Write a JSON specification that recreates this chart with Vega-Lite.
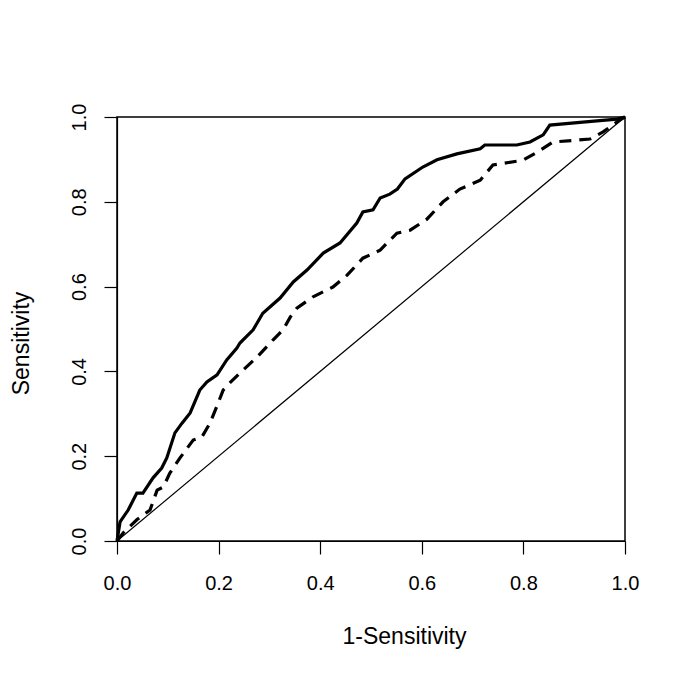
{
  "$schema": "https://vega.github.io/schema/vega-lite/v6.json",
  "autosize": "none",
  "width": 508,
  "height": 424,
  "padding": {"left": 117, "top": 117, "right": 60, "bottom": 144},
  "background": "white",
  "config": {
    "view": {"stroke": "black", "strokeWidth": 1.5},
    "axis": {
      "grid": false,
      "domainColor": "black",
      "domainWidth": 1.2,
      "tickColor": "black",
      "tickWidth": 1.2,
      "tickSize": 13,
      "labelColor": "black",
      "titleColor": "black",
      "labelFont": "Liberation Sans, Arial, sans-serif",
      "titleFont": "Liberation Sans, Arial, sans-serif",
      "labelFontSize": 20,
      "titleFontSize": 23,
      "titleFontWeight": "normal"
    }
  },
  "data": {
    "values": [
      {"curve": "A", "i": 0, "x": 0, "y": 0},
      {"curve": "A", "i": 1, "x": 0.006, "y": 0.045},
      {"curve": "A", "i": 2, "x": 0.022, "y": 0.073},
      {"curve": "A", "i": 3, "x": 0.039, "y": 0.113},
      {"curve": "A", "i": 4, "x": 0.051, "y": 0.113},
      {"curve": "A", "i": 5, "x": 0.071, "y": 0.149},
      {"curve": "A", "i": 6, "x": 0.088, "y": 0.172},
      {"curve": "A", "i": 7, "x": 0.098, "y": 0.196},
      {"curve": "A", "i": 8, "x": 0.114, "y": 0.255},
      {"curve": "A", "i": 9, "x": 0.128, "y": 0.278},
      {"curve": "A", "i": 10, "x": 0.144, "y": 0.302},
      {"curve": "A", "i": 11, "x": 0.163, "y": 0.356},
      {"curve": "A", "i": 12, "x": 0.177, "y": 0.375},
      {"curve": "A", "i": 13, "x": 0.197, "y": 0.392},
      {"curve": "A", "i": 14, "x": 0.216, "y": 0.427},
      {"curve": "A", "i": 15, "x": 0.236, "y": 0.455},
      {"curve": "A", "i": 16, "x": 0.242, "y": 0.467},
      {"curve": "A", "i": 17, "x": 0.268, "y": 0.498},
      {"curve": "A", "i": 18, "x": 0.287, "y": 0.537},
      {"curve": "A", "i": 19, "x": 0.321, "y": 0.573},
      {"curve": "A", "i": 20, "x": 0.347, "y": 0.611},
      {"curve": "A", "i": 21, "x": 0.374, "y": 0.639},
      {"curve": "A", "i": 22, "x": 0.406, "y": 0.679},
      {"curve": "A", "i": 23, "x": 0.439, "y": 0.703},
      {"curve": "A", "i": 24, "x": 0.472, "y": 0.75},
      {"curve": "A", "i": 25, "x": 0.484, "y": 0.776},
      {"curve": "A", "i": 26, "x": 0.504, "y": 0.781},
      {"curve": "A", "i": 27, "x": 0.518, "y": 0.809},
      {"curve": "A", "i": 28, "x": 0.537, "y": 0.818},
      {"curve": "A", "i": 29, "x": 0.552, "y": 0.83},
      {"curve": "A", "i": 30, "x": 0.567, "y": 0.854},
      {"curve": "A", "i": 31, "x": 0.602, "y": 0.882},
      {"curve": "A", "i": 32, "x": 0.63, "y": 0.899},
      {"curve": "A", "i": 33, "x": 0.669, "y": 0.913},
      {"curve": "A", "i": 34, "x": 0.715, "y": 0.925},
      {"curve": "A", "i": 35, "x": 0.724, "y": 0.934},
      {"curve": "A", "i": 36, "x": 0.787, "y": 0.934},
      {"curve": "A", "i": 37, "x": 0.813, "y": 0.941},
      {"curve": "A", "i": 38, "x": 0.839, "y": 0.958},
      {"curve": "A", "i": 39, "x": 0.852, "y": 0.981},
      {"curve": "A", "i": 40, "x": 0.917, "y": 0.988},
      {"curve": "A", "i": 41, "x": 0.984, "y": 0.995},
      {"curve": "A", "i": 42, "x": 1, "y": 1},
      {"curve": "B", "i": 0, "x": 0, "y": 0},
      {"curve": "B", "i": 1, "x": 0.012, "y": 0.019},
      {"curve": "B", "i": 2, "x": 0.039, "y": 0.05},
      {"curve": "B", "i": 3, "x": 0.065, "y": 0.073},
      {"curve": "B", "i": 4, "x": 0.079, "y": 0.12},
      {"curve": "B", "i": 5, "x": 0.091, "y": 0.127},
      {"curve": "B", "i": 6, "x": 0.104, "y": 0.16},
      {"curve": "B", "i": 7, "x": 0.124, "y": 0.196},
      {"curve": "B", "i": 8, "x": 0.15, "y": 0.238},
      {"curve": "B", "i": 9, "x": 0.167, "y": 0.245},
      {"curve": "B", "i": 10, "x": 0.183, "y": 0.278},
      {"curve": "B", "i": 11, "x": 0.196, "y": 0.316},
      {"curve": "B", "i": 12, "x": 0.209, "y": 0.356},
      {"curve": "B", "i": 13, "x": 0.222, "y": 0.373},
      {"curve": "B", "i": 14, "x": 0.248, "y": 0.403},
      {"curve": "B", "i": 15, "x": 0.276, "y": 0.434},
      {"curve": "B", "i": 16, "x": 0.307, "y": 0.474},
      {"curve": "B", "i": 17, "x": 0.327, "y": 0.498},
      {"curve": "B", "i": 18, "x": 0.341, "y": 0.528},
      {"curve": "B", "i": 19, "x": 0.354, "y": 0.549},
      {"curve": "B", "i": 20, "x": 0.386, "y": 0.576},
      {"curve": "B", "i": 21, "x": 0.425, "y": 0.599},
      {"curve": "B", "i": 22, "x": 0.453, "y": 0.627},
      {"curve": "B", "i": 23, "x": 0.484, "y": 0.667},
      {"curve": "B", "i": 24, "x": 0.518, "y": 0.686},
      {"curve": "B", "i": 25, "x": 0.551, "y": 0.726},
      {"curve": "B", "i": 26, "x": 0.577, "y": 0.733},
      {"curve": "B", "i": 27, "x": 0.61, "y": 0.759},
      {"curve": "B", "i": 28, "x": 0.642, "y": 0.8},
      {"curve": "B", "i": 29, "x": 0.675, "y": 0.83},
      {"curve": "B", "i": 30, "x": 0.715, "y": 0.851},
      {"curve": "B", "i": 31, "x": 0.74, "y": 0.887},
      {"curve": "B", "i": 32, "x": 0.799, "y": 0.898},
      {"curve": "B", "i": 33, "x": 0.827, "y": 0.917},
      {"curve": "B", "i": 34, "x": 0.858, "y": 0.941},
      {"curve": "B", "i": 35, "x": 0.931, "y": 0.948},
      {"curve": "B", "i": 36, "x": 0.957, "y": 0.965},
      {"curve": "B", "i": 37, "x": 0.99, "y": 0.993},
      {"curve": "B", "i": 38, "x": 1, "y": 1},
      {"curve": "C", "i": 0, "x": 0, "y": 0},
      {"curve": "C", "i": 1, "x": 1, "y": 1}
    ]
  },
  "encoding": {
    "x": {
      "field": "x", "type": "quantitative",
      "scale": {"domain": [0, 1], "nice": false, "zero": false},
      "axis": {
        "title": "1-Sensitivity",
        "values": [0, 0.2, 0.4, 0.6, 0.8, 1],
        "format": ".1f",
        "labelBaseline": "alphabetic",
        "labelPadding": 35,
        "labelFlush": false,
        "titleX": 287,
        "titleY": 102,
        "titleAlign": "center",
        "titleAnchor": null,
        "titleBaseline": "alphabetic"
      }
    },
    "y": {
      "field": "y", "type": "quantitative",
      "scale": {"domain": [0, 1], "nice": false, "zero": false},
      "axis": {
        "title": "Sensitivity",
        "values": [0, 0.2, 0.4, 0.6, 0.8, 1],
        "format": ".1f",
        "labelAngle": 270,
        "labelAlign": "center",
        "labelBaseline": "alphabetic",
        "labelPadding": 19,
        "labelFlush": false,
        "titleAngle": 270,
        "titleX": -89,
        "titleY": 226,
        "titleAlign": "center",
        "titleBaseline": "alphabetic"
      }
    },
    "order": {"field": "i", "type": "quantitative"}
  },
  "layer": [
    {
      "transform": [{"filter": "datum.curve === 'C'"}],
      "mark": {"type": "line", "color": "black", "strokeWidth": 1.2}
    },
    {
      "transform": [{"filter": "datum.curve === 'B'"}],
      "mark": {"type": "line", "color": "black", "strokeWidth": 3.2, "strokeDash": [12, 8]}
    },
    {
      "transform": [{"filter": "datum.curve === 'A'"}],
      "mark": {"type": "line", "color": "black", "strokeWidth": 3.2}
    }
  ]
}
